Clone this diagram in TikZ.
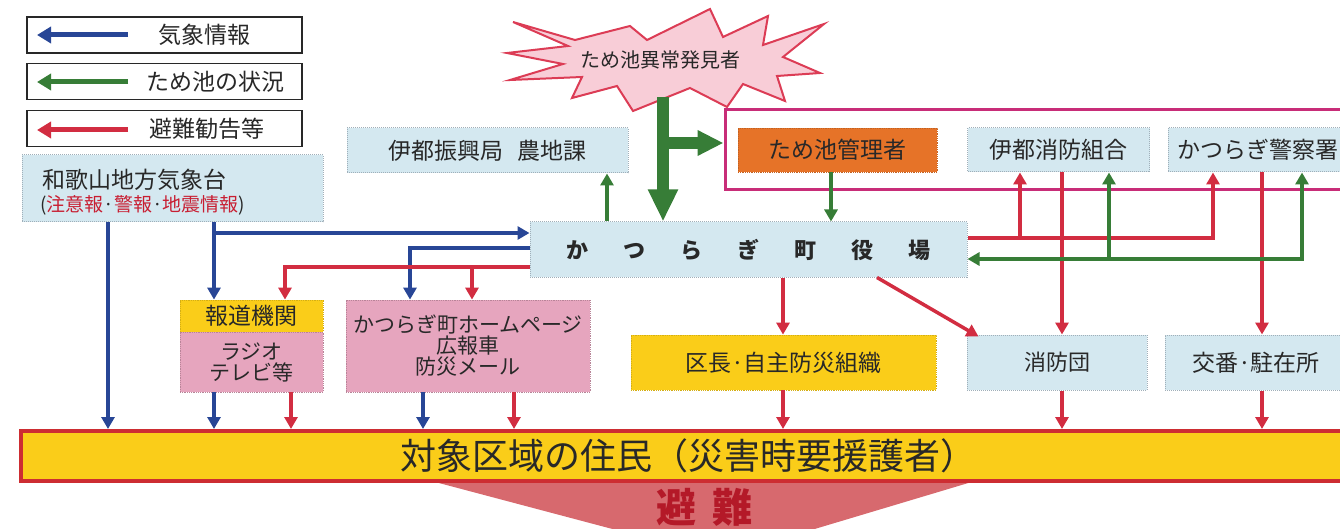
\documentclass[tikz,border=0pt]{standalone}
\usepackage{fontspec}
\setmainfont{Noto Sans CJK JP}
\usetikzlibrary{arrows.meta}
\definecolor{cblue}{RGB}{40,70,150}
\definecolor{cgreen}{RGB}{55,125,55}
\definecolor{cred}{RGB}{210,45,65}
\definecolor{clb}{RGB}{212,232,240}
\definecolor{cpink}{RGB}{230,165,190}
\definecolor{cyellow}{RGB}{250,205,25}
\definecolor{corange}{RGB}{230,115,40}
\definecolor{cmag}{RGB}{200,45,120}
\definecolor{cstarfill}{RGB}{248,205,215}
\definecolor{cstarline}{RGB}{220,60,85}
\definecolor{cbarred}{RGB}{205,45,50}
\definecolor{ctri}{RGB}{215,105,110}
\definecolor{chinan}{RGB}{180,25,40}
\definecolor{cdot}{RGB}{160,175,185}
\definecolor{ctext}{RGB}{40,40,40}
\definecolor{cwred}{RGB}{200,30,50}
\newcommand\fsz[1]{\fontsize{#1}{#1}\selectfont}
\tikzset{
  lb/.style={draw=cdot, densely dotted, line width=1pt, fill=clb, inner sep=0pt, text=ctext},
  pk/.style={draw=cpink!80!black, densely dotted, line width=0.8pt, fill=cpink, inner sep=0pt, text=ctext},
  yb/.style={draw=cyellow!85!black, densely dotted, line width=0.8pt, fill=cyellow, inner sep=0pt, text=ctext},
  legbox/.style={draw=ctext, line width=1.5pt, fill=white, minimum width=275pt, minimum height=36pt, inner sep=0pt},
  legtxt/.style={text=ctext, font=\fsz{23}, inner sep=0pt},
  tip/.style={-{Triangle[width=13pt,length=12pt]}},
  ab/.style={draw=cblue, line width=3.5pt, tip},
  ar/.style={draw=cred, line width=3.5pt, tip},
  ag/.style={draw=cgreen, line width=3.5pt, tip},
  thickg/.style={draw=cgreen, line width=12pt},
}
\begin{document}
\begin{tikzpicture}[x=1pt,y=-1pt]
\useasboundingbox (0,0) rectangle (1340,529);

% legend
\node[legbox] (leg1) at (164.5,35) {};
\node[legbox] (leg2) at (164.5,81.5) {};
\node[legbox] (leg3) at (164.5,128.5) {};
\node[legtxt] (lt1) at (204,35) {気象情報};
\node[legtxt] (lt2) at (215,82) {ため池の状況};
\node[legtxt] (lt3) at (207,129) {避難勧告等};
\coordinate (l1s) at (128,35); \coordinate (l1e) at (37,35);
\coordinate (l2s) at (128,82); \coordinate (l2e) at (37,82);
\coordinate (l3s) at (128,130); \coordinate (l3e) at (37,130);
\draw[draw=cblue, line width=5pt, -{Triangle[width=16pt,length=14pt]}] (l1s) -- (l1e);
\draw[draw=cgreen, line width=5pt, -{Triangle[width=16pt,length=14pt]}] (l2s) -- (l2e);
\draw[draw=cred, line width=5pt, -{Triangle[width=16pt,length=14pt]}] (l3s) -- (l3e);

% Wakayama
\node[lb, minimum width=301pt, minimum height=67pt] (wak) at (172.5,188.5) {};
\node[anchor=west, inner sep=0pt, text=ctext, font=\fsz{23}] (wakt1) at (42,180) {和歌山地方気象台};
\node[anchor=west, inner sep=0pt, text=ctext, font=\fsz{19}] (wakt2) at (40,205)
  {(\textcolor{cwred}{注意報}·\textcolor{cwred}{警報}·\textcolor{cwred}{地震情報})};

% star
\draw[draw=cstarline, line width=2pt, fill=cstarfill, line join=miter]
  (513,22) -- (575,40) -- (630,26) -- (647,40) -- (710,9) -- (723,37) -- (768,16) -- (763,45)
  -- (824,24) -- (783,57) -- (820,73) -- (777,76) -- (785,101) -- (743,84) -- (727,107)
  -- (690,88) -- (633,111) -- (617,86) -- (572,98) -- (582,77) -- (510,80) -- (563,64)
  -- (507,53) -- (568,46) -- cycle;
\node[inner sep=0pt, text=ctext, font=\fsz{20}] (star) at (660,60) {ため池異常発見者};

% top boxes
\node[lb, minimum width=281pt, minimum height=45pt, font=\fsz{23}] (ito) at (487.5,150.5) {伊都振興局\hspace{14pt}農地課};
\node[draw=cmag, line width=3pt, minimum width=622pt, minimum height=80pt, inner sep=0pt] (grp) at (1036,150) {};
\node[draw=corange!85!black, densely dotted, line width=0.8pt, fill=corange, inner sep=0pt, text=ctext, minimum width=199pt, minimum height=44pt, font=\fsz{23}] (kan) at (837.5,150) {ため池管理者};
\node[lb, minimum width=182pt, minimum height=44pt, font=\fsz{23}] (kum) at (1058.5,150) {伊都消防組合};
\node[lb, minimum width=180pt, minimum height=44pt, font=\fsz{23}] (kei) at (1258,150) {かつらぎ警察署};

% town office
\node[lb, minimum width=437pt, minimum height=55pt, font=\fsz{22}\bfseries] (town) at (748.5,249.5)
  {か\hspace{35pt}つ\hspace{35pt}ら\hspace{35pt}ぎ\hspace{35pt}町\hspace{35pt}役\hspace{35pt}場};

% middle boxes
\node[yb, minimum width=143pt, minimum height=32pt, font=\fsz{23}] (hodoT) at (251.5,316) {報道機関};
\node[pk, minimum width=143pt, minimum height=60pt, font=\fsz{21}, align=center] (hodoB) at (251.5,362)
  {\fontsize{21}{26}\selectfont ラジオ\\テレビ等};
\node[pk, minimum width=244pt, minimum height=92pt, font=\fsz{21}, align=center] (hp) at (468,346)
  {\fontsize{21}{25}\selectfont かつらぎ町ホームページ\\広報車\\防災メール};
\node[yb, minimum width=305pt, minimum height=55pt, font=\fsz{23}] (ku) at (783.5,362.5) {区長·自主防災組織};
\node[lb, minimum width=180pt, minimum height=55pt, font=\fsz{22}] (dan) at (1057,362.5) {消防団};
\node[lb, minimum width=182pt, minimum height=55pt, font=\fsz{23}] (kob) at (1256,362.5) {交番·駐在所};

% evacuation triangle and bar
\fill[ctri] (420,478) -- (985,478) -- (808,531) -- (620,531) -- cycle;
\node[draw=cbarred, line width=4pt, fill=cyellow, minimum width=1334pt, minimum height=50pt, inner sep=0pt, text=ctext, font=\fsz{36}] (bar) at (688,456)
  {対象区域の住民（災害時要援護者）};
\node[text=chinan, inner sep=0pt, font=\fsz{40}\bfseries] (hinan) at (704,507) {避\hspace{16pt}難};

% thick green arrows from the finder
\coordinate (sb) at (663,97);
\coordinate (sbr) at (663,143);
\draw[thickg, -{Triangle[width=28pt,length=32pt]}] (sb) -- (town.north -| sb);
\draw[thickg, -{Triangle[width=24pt,length=26pt]}] (sbr) -- (grp.west |- sbr);

% blue
\draw[ab] (wak.south -| 108,0) -- (bar.north -| 108,0);
\draw[ab] (wak.south -| 214,0) -- (hodoT.north -| 214,0);
\coordinate (jb) at (214,233);
\draw[ab] (jb) -- (town.west |- jb);
\draw[ab] (town.west |- 0,248) -| (hp.north -| 410,0);
\draw[ab] (hodoB.south -| 214,0) -- (bar.north -| 214,0);
\draw[ab] (hp.south -| 423,0) -- (bar.north -| 423,0);

% red
\draw[ar] (town.west |- 0,267) -| (hodoT.north -| 285,0);
\coordinate (jr1) at (472,267);
\draw[ar] (jr1) -- (hp.north -| jr1);
\draw[ar] (hodoB.south -| 291,0) -- (bar.north -| 291,0);
\draw[ar] (hp.south -| 514,0) -- (bar.north -| 514,0);
\draw[ar] (town.south -| 783,0) -- (ku.north -| 783,0);
\draw[ar] (ku.south -| 783,0) -- (bar.north -| 783,0);
\draw[ar] (town.south -| 877,0) -- ([xshift=12pt,yshift=-2pt]dan.north west);
\draw[ar, {Triangle[width=13pt,length=12pt]}-] (kei.south -| 1213,0) |- (town.east |- 0,238);
\coordinate (jr2) at (1020,238);
\draw[ar] (jr2) -- (kum.south -| jr2);
\draw[ar] (kum.south -| 1062,0) -- (dan.north -| 1062,0);
\draw[ar] (kei.south -| 1262,0) -- (kob.north -| 1262,0);
\draw[ar] (dan.south -| 1062,0) -- (bar.north -| 1062,0);
\draw[ar] (kob.south -| 1262,0) -- (bar.north -| 1262,0);

% green
\draw[ag] (town.north -| 607,0) -- (ito.south -| 607,0);
\draw[ag] (kan.south -| 831,0) -- (town.north -| 831,0);
\draw[ag, {Triangle[width=13pt,length=12pt]}-{Triangle[width=13pt,length=12pt]}] (kei.south -| 1302,0) |- (town.east |- 0,259);
\coordinate (jg) at (1109,259);
\draw[ag] (jg) -- (kum.south -| jg);
\end{tikzpicture}
\end{document}
